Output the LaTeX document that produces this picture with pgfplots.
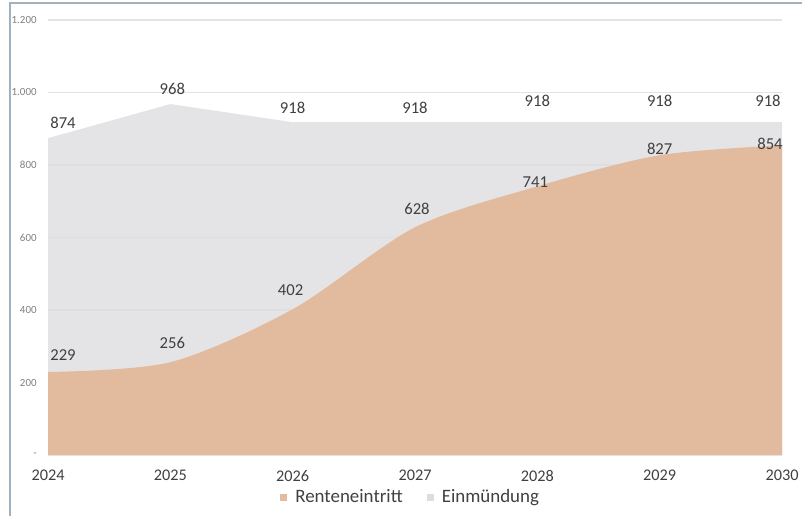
\documentclass[border=0pt]{standalone}
\usepackage{fontspec}
\setmainfont{Carlito}
\usepackage{pgfplots}
\usepackage{pgfplotstable}
\pgfplotsset{compat=1.18}

\definecolor{rente}{RGB}{226,187,158}
\definecolor{einm}{RGB}{221,221,224}
\definecolor{lbl}{RGB}{64,64,64}
\definecolor{frame}{RGB}{160,178,192}

% year, value, label shift x / y (pt)
\pgfplotstableread{
x    y    dx     dy
2024 874  11.25  11.25
2025 968  1.5    11.25
2026 918  0      10.5
2027 918  0      10.5
2028 918  0      16
2029 918  0      16
2030 918  -10.5  16
}\einmtab

\pgfplotstableread{
x    y    dx     dy
2024 229  11.25  12.75
2025 256  1.5    14.25
2026 402  -1.5   14.25
2027 628  1.5    13.5
2028 741  -1.5   3
2029 827  0      4.5
2030 854  -9     1.5
}\rentetab

\pgfplotsset{
  shiftlabels/.style={
    nodes near coords,
    visualization depends on={\thisrow{dx} \as \dx},
    visualization depends on={\thisrow{dy} \as \dy},
    every node near coord/.append style={anchor=center, xshift=\dx pt, yshift=\dy pt,
        font=\fontsize{12.5}{14}\selectfont, text=lbl, opacity=1, text opacity=1},
  }
}

\begin{document}
\begin{tikzpicture}
\path[use as bounding box] (0,0) rectangle (603pt,387pt);
\draw[frame, line width=1.1pt] (7.5pt,0) -- (7.5pt,384.75pt) -- (601.5pt,384.75pt);
\begin{axis}[
    at={(36pt,45.75pt)},
    anchor=south west,
    scale only axis,
    width=550.5pt,
    height=326.25pt,
    xmin=2024, xmax=2030,
    ymin=0, ymax=1200,
    /pgf/number format/assume math mode=true,
    axis line style={draw=none},
    major tick length=0pt,
    xtick={2024,2025,2026,2027,2028,2029,2030},
    xticklabels={2024,2025,2026,2027,2028,2029,2030},
    xticklabel style={font=\fontsize{12.2}{13}\selectfont, text=lbl, yshift=-8pt},
    ytick={0,200,400,600,800,1000,1200},
    yticklabels={-,200,400,600,800,1.000,1.200},
    yticklabel style={font=\fontsize{8.2}{10}\selectfont, text=gray, xshift=-5pt},
    ymajorgrids,
    grid style={gray!22, line width=0.8pt},
    legend style={at={(0.4946,-0.097)}, anchor=center, draw=none, fill=none,
        inner sep=0pt, legend columns=2, font=\fontsize{14.2}{15}\selectfont, text=lbl},
    reverse legend,
    legend image code/.code={\fill[#1, draw=none, fill opacity=1] (0pt,-2.6pt) rectangle (5.25pt,2.6pt);},
]
\addplot[fill=einm, draw=none, fill opacity=0.8, shiftlabels] table[x=x, y=y] {\einmtab} \closedcycle;
\addplot[fill=rente, draw=none, smooth, shiftlabels] table[x=x, y=y] {\rentetab} \closedcycle;
\legend{\rule{4pt}{0pt}Einmündung, \rule{4pt}{0pt}Renteneintritt\rule{16pt}{0pt}}
\end{axis}
\end{tikzpicture}
\end{document}
